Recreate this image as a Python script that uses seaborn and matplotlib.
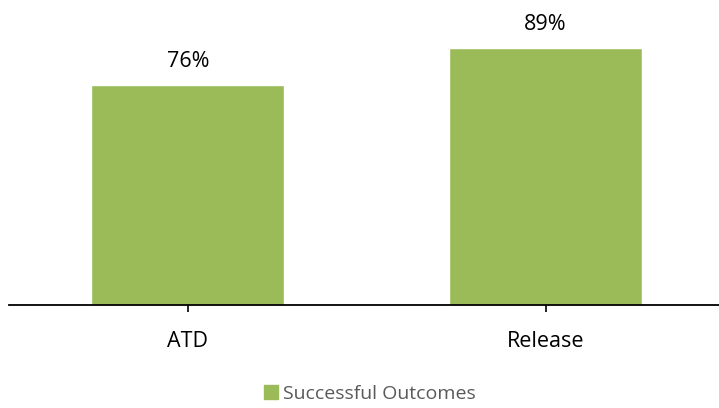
import pandas as pd
import matplotlib.pyplot as plt
import seaborn as sns

# chart data
categories = ["ATD", "Release"]
success_pct = [76, 89]
series_name = "Successful Outcomes"

df = pd.DataFrame({"Category": categories, "Value": success_pct,
                   "Series": [series_name] * len(categories)})

sns.set_style("white")
plt.rcParams["font.family"] = ["Open Sans", "DejaVu Sans"]

fig = plt.figure(figsize=(7.19, 4.08), dpi=100)
ax = fig.add_axes([9 / 719, 1 - 305 / 408, 1 - 9 / 719, 305 / 408])

green = "#9BBB59"
sns.barplot(data=df, x="Category", y="Value", hue="Series", palette=[green],
            width=0.54, ax=ax, legend=False, saturation=1)

ax.set_ylim(0, 105.5)
ax.set_xlim(-0.5, 1.485)

# value labels above bars
for i, v in enumerate(success_pct):
    ax.annotate(f"{v}%", (i, v), xytext=(0, 17), textcoords="offset points",
                ha="center", va="center", fontsize=15.5, color="black")

sns.despine(ax=ax, left=True, top=True, right=True)
ax.spines["bottom"].set_color("black")
ax.spines["bottom"].set_linewidth(1.3)
ax.set_yticks([])
ax.set_xlabel("")
ax.set_ylabel("")
ax.tick_params(axis="x", bottom=True, length=5, width=1.2, color="black",
               pad=13.5, labelsize=15.5, labelcolor="black")

handle = plt.Rectangle((0, 0), 1, 1, color=green)
fig.legend([handle], [series_name], loc="center",
           bbox_to_anchor=(370 / 719, 1 - 394 / 408), frameon=False,
           fontsize=14, labelcolor="#595959", handlelength=0.7,
           handleheight=0.7, handletextpad=0.3)

fig.savefig("out.png", dpi=100)
